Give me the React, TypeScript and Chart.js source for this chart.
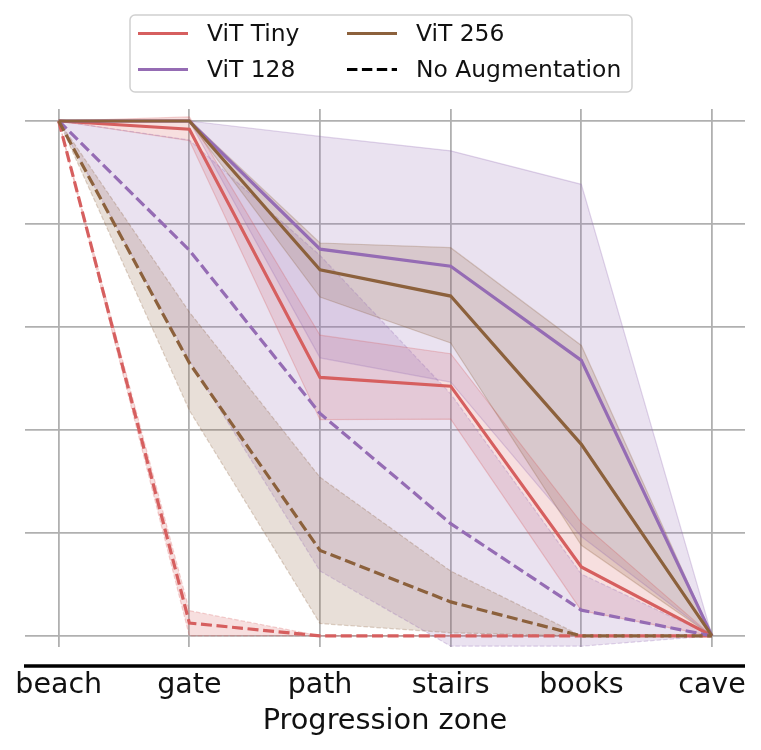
import { useEffect, useRef } from 'react';
import { Chart, registerables } from 'chart.js';

Chart.register(...registerables);

// ---- Data ----
const zones = ['beach', 'gate', 'path', 'stairs', 'books', 'cave'];
const yTicks = [0, 0.2, 0.4, 0.6, 0.8, 1.0];

const vitTinyMean = [1.0, 0.984, 0.502, 0.485, 0.134, 0.0];
const vitTinyLow = [1.0, 0.962, 0.42, 0.421, 0.049, 0.0];
const vitTinyHigh = [1.0, 1.008, 0.584, 0.548, 0.22, 0.0];

const vit128Mean = [1.0, 1.0, 0.751, 0.718, 0.535, 0.0];
const vit128Low = [1.0, 1.0, 0.54, 0.493, 0.193, 0.0];
const vit128High = [1.0, 1.0, 0.97, 0.942, 0.877, 0.0];

const vit256Mean = [1.0, 1.0, 0.711, 0.66, 0.372, 0.0];
const vit256Low = [1.0, 0.998, 0.658, 0.569, 0.176, 0.0];
const vit256High = [1.0, 1.002, 0.763, 0.754, 0.564, 0.0];

const vitTinyNoAugMean = [1.0, 0.025, 0.0, 0.0, 0.0, 0.0];
const vitTinyNoAugLow = [1.0, 0.0, 0.0, 0.0, 0.0, 0.0];
const vitTinyNoAugHigh = [1.0, 0.049, 0.0, 0.0, 0.0, 0.0];

const vit128NoAugMean = [1.0, 0.749, 0.432, 0.218, 0.05, 0.0];
const vit128NoAugLow = [1.0, 0.535, 0.126, -0.02, -0.02, 0.0];
const vit128NoAugHigh = [1.0, 0.963, 0.739, 0.47, 0.12, 0.0];

const vit256NoAugMean = [1.0, 0.53, 0.166, 0.066, 0.0, 0.0];
const vit256NoAugLow = [1.0, 0.438, 0.024, 0.006, 0.0, 0.0];
const vit256NoAugHigh = [1.0, 0.629, 0.308, 0.126, 0.0, 0.0];

const RED = '#d65f5f';
const PURPLE = '#956cb4';
const BROWN = '#8c613c';
const FONT = "'DejaVu Sans', sans-serif";

function rgba(hex: string, a: number) {
  const n = parseInt(hex.slice(1), 16);
  return `rgba(${(n >> 16) & 255},${(n >> 8) & 255},${n & 255},${a})`;
}

const pts = (arr: number[]) => arr.map((v, i) => ({ x: i, y: v }));

const legendItems = [
  { label: 'ViT Tiny', color: RED, dash: [] as number[] },
  { label: 'ViT 128', color: PURPLE, dash: [] as number[] },
  { label: 'ViT 256', color: BROWN, dash: [] as number[] },
  { label: 'No Augmentation', color: '#000000', dash: [10.4, 4.5] },
];

const legendPlugin = {
  id: 'customLegend',
  afterDraw(chart: any) {
    const { ctx, chartArea } = chart;
    ctx.save();
    const left = chartArea.left + 105;
    const top = chartArea.top - 94;
    const w = 502;
    const h = 77;
    ctx.beginPath();
    ctx.roundRect(left, top, w, h, 5);
    ctx.fillStyle = 'rgba(255,255,255,0.8)';
    ctx.fill();
    ctx.lineWidth = 1.5;
    ctx.strokeStyle = '#d0d0d0';
    ctx.stroke();
    legendItems.forEach((it, i) => {
      const col = Math.floor(i / 2);
      const row = i % 2;
      const y = top + 18.5 + row * 36;
      const hx = left + 8 + col * 209;
      ctx.beginPath();
      ctx.setLineDash(it.dash);
      ctx.lineWidth = 3;
      ctx.strokeStyle = it.color;
      ctx.moveTo(hx, y);
      ctx.lineTo(hx + 50, y);
      ctx.stroke();
      ctx.setLineDash([]);
      ctx.fillStyle = '#111';
      ctx.font = `23.4px ${FONT}`;
      ctx.textBaseline = 'middle';
      ctx.textAlign = 'left';
      ctx.fillText(it.label, hx + 69, y + 1);
    });
    ctx.restore();
  },
};

const spinePlugin = {
  id: 'bottomSpine',
  afterDraw(chart: any) {
    const { ctx, chartArea } = chart;
    ctx.save();
    ctx.beginPath();
    ctx.lineWidth = 3.5;
    ctx.strokeStyle = '#000';
    const y = chartArea.bottom + 19;
    ctx.moveTo(chartArea.left - 1, y);
    ctx.lineTo(chartArea.right, y);
    ctx.stroke();
    ctx.restore();
  },
};

export default function App() {
  const ref = useRef<HTMLCanvasElement>(null);
  useEffect(() => {
    if (!ref.current) return;
    const series = [
      { color: RED, mean: vitTinyMean, low: vitTinyLow, high: vitTinyHigh, dashed: false, order: 5 },
      { color: RED, mean: vitTinyNoAugMean, low: vitTinyNoAugLow, high: vitTinyNoAugHigh, dashed: true, order: 4 },
      { color: PURPLE, mean: vit128Mean, low: vit128Low, high: vit128High, dashed: false, order: 3 },
      { color: PURPLE, mean: vit128NoAugMean, low: vit128NoAugLow, high: vit128NoAugHigh, dashed: true, order: 2 },
      { color: BROWN, mean: vit256Mean, low: vit256Low, high: vit256High, dashed: false, order: 1 },
      { color: BROWN, mean: vit256NoAugMean, low: vit256NoAugLow, high: vit256NoAugHigh, dashed: true, order: 0 },
    ];
    const datasets: any[] = [];
    series.forEach((s) => {
      const edge = {
        borderColor: rgba(s.color, 0.28),
        borderWidth: 1.2,
        borderDash: s.dashed ? [4.5, 2] : [],
        pointRadius: 0,
        tension: 0,
      };
      datasets.push({
        ...edge,
        data: pts(s.high),
        backgroundColor: rgba(s.color, 0.2),
        fill: '+1',
        order: 20 + s.order,
      });
      datasets.push({
        ...edge,
        data: pts(s.low),
        fill: false,
        order: 20 + s.order,
      });
    });
    series.forEach((s) => {
      datasets.push({
        data: pts(s.mean),
        borderColor: s.color,
        borderWidth: 3.2,
        borderDash: s.dashed ? [11, 4.6] : [],
        pointRadius: 0,
        fill: false,
        tension: 0,
        order: s.order,
      });
    });

    const chart = new Chart(ref.current, {
      type: 'line',
      data: { datasets },
      options: {
        animation: false,
        responsive: false,
        devicePixelRatio: 1,
        events: [],
        layout: { padding: { top: 101, left: 17, right: 8, bottom: 0 } },
        plugins: {
          legend: { display: false },
          tooltip: { enabled: false },
          filler: { drawTime: 'beforeDatasetsDraw' },
        },
        scales: {
          x: {
            type: 'linear',
            min: -0.258,
            max: 5.2526,
            afterBuildTicks: (scale: any) => {
              scale.ticks = zones.map((_, i) => ({ value: i }));
            },
            ticks: {
              callback: (v: any) => zones[v as number] ?? '',
              font: { family: FONT, size: 28.5, lineHeight: 2.72 },
              color: '#111',
              padding: 0,
              maxRotation: 0,
              autoSkip: false,
            },
            grid: { color: '#b0b0b0', lineWidth: 1.8, drawTicks: false },
            border: { display: false },
            title: {
              display: true,
              text: 'Progression zone',
              font: { family: FONT, size: 28.8 },
              color: '#111',
              padding: { top: -20, bottom: 3 },
            },
          },
          y: {
            type: 'linear',
            min: -0.0214,
            max: 1.0233,
            afterBuildTicks: (scale: any) => {
              scale.ticks = yTicks.map((v) => ({ value: v }));
            },
            ticks: { display: false },
            grid: { color: '#b0b0b0', lineWidth: 1.8, drawTicks: false },
            border: { display: false },
          },
        },
      },
      plugins: [legendPlugin, spinePlugin],
    });
    return () => chart.destroy();
  }, []);
  return (
    <canvas
      ref={ref}
      width={745}
      height={734}
      style={{ display: 'block', width: 745, height: 734 }}
    />
  );
}
